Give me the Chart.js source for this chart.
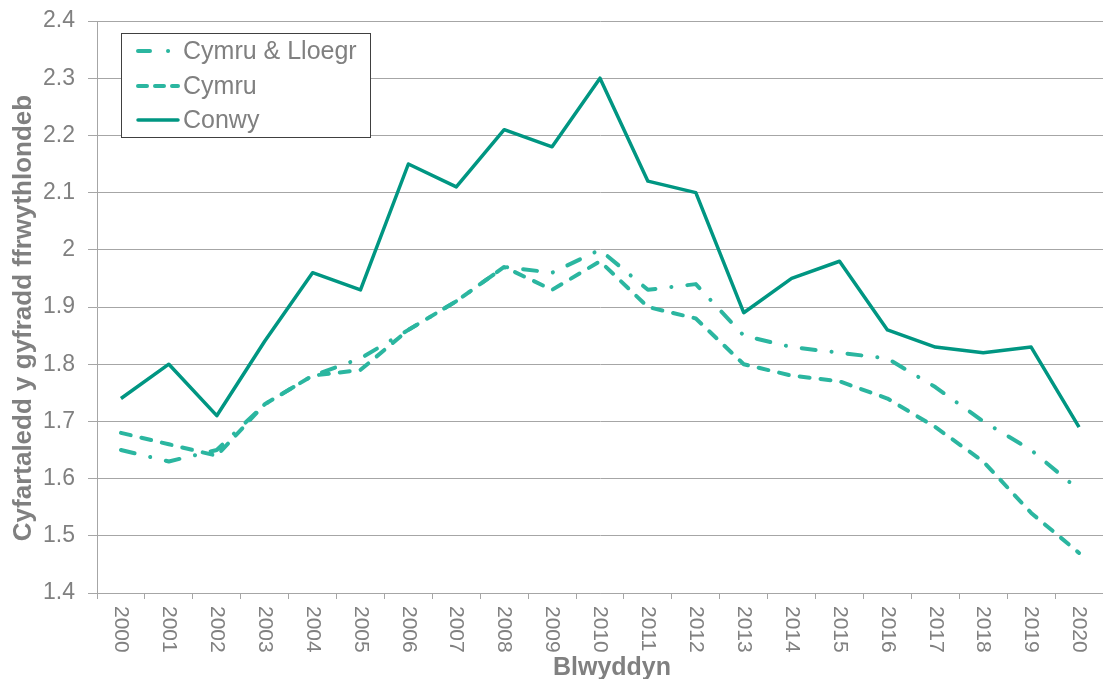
<!DOCTYPE html>
<html>
<head>
<meta charset="utf-8">
<script src="https://cdn.jsdelivr.net/npm/chart.js@4/dist/chart.umd.min.js"></script>
<style>
  html, body { margin: 0; padding: 0; background: #fff; }
  #wrap { width: 1103px; height: 679px; }
</style>
</head>
<body>
<div id="wrap"><canvas id="fertilityChart"></canvas></div>
<script>
var years = ["2000", "2001", "2002", "2003", "2004", "2005", "2006", "2007", "2008", "2009", "2010",
    "2011", "2012", "2013", "2014", "2015", "2016", "2017", "2018", "2019", "2020"];

var cymruLloegr = [1.65, 1.63, 1.65, 1.73, 1.78, 1.81, 1.86, 1.91, 1.97, 1.96, 2.00,
    1.93, 1.94, 1.85, 1.83, 1.82, 1.81, 1.76, 1.70, 1.65, 1.58];
var cymru = [1.68, 1.66, 1.64, 1.73, 1.78, 1.79, 1.86, 1.91, 1.97, 1.93, 1.98,
    1.90, 1.88, 1.80, 1.78, 1.77, 1.74, 1.69, 1.63, 1.54, 1.47];
var conwy = [1.74, 1.80, 1.71, 1.84, 1.96, 1.93, 2.15, 2.11, 2.21, 2.18, 2.30,
    2.12, 2.10, 1.89, 1.95, 1.98, 1.86, 1.83, 1.82, 1.83, 1.69];

var seriesNames = ["Cymru & Lloegr", "Cymru", "Conwy"];
var xTitle = "Blwyddyn";
var yTitle = "Cyfartaledd y gyfradd ffrwythlondeb";

var lightTeal = "#2bb6a0";
var darkTeal = "#009682";
var grey = "#808080";
var gridGrey = "#a6a6a6";
var fontName = "'Liberation Sans', Arial, sans-serif";

// draws rotated year labels, axis titles and the boxed legend
var extras = {
    id: "extras",
    afterDraw: function (chart) {
        var ctx = chart.ctx;
        var x = chart.scales.x;
        var area = chart.chartArea;
        ctx.save();

        ctx.fillStyle = grey;
        ctx.font = "21px " + fontName;
        ctx.textAlign = "left";
        ctx.textBaseline = "middle";
        years.forEach(function (yr, i) {
            var px = x.getPixelForTick(i);
            ctx.save();
            ctx.translate(px, area.bottom + 13);
            ctx.rotate(Math.PI / 2);
            ctx.fillText(yr, 0, 0);
            ctx.restore();
        });

        ctx.font = "bold 25px " + fontName;
        ctx.textAlign = "center";
        ctx.fillText(xTitle, 612, 668);

        ctx.save();
        ctx.font = "bold 26px " + fontName;
        ctx.translate(24, 318);
        ctx.rotate(-Math.PI / 2);
        ctx.fillText(yTitle, 0, 0);
        ctx.restore();

        // legend
        ctx.fillStyle = "#fff";
        ctx.fillRect(121, 33, 249, 104);
        ctx.strokeStyle = "#404040";
        ctx.lineWidth = 1;
        ctx.strokeRect(121.5, 33.5, 249, 104);

        var rows = [51, 86, 120];
        ctx.font = "25px " + fontName;
        ctx.textAlign = "left";
        chart.data.datasets.forEach(function (ds, i) {
            ctx.save();
            ctx.strokeStyle = ds.borderColor;
            ctx.lineWidth = ds.borderWidth;
            ctx.lineCap = "round";
            ctx.setLineDash(ds.legendDash);
            ctx.beginPath();
            ctx.moveTo(138, rows[i]);
            ctx.lineTo(178, rows[i]);
            ctx.stroke();
            ctx.restore();
            ctx.fillStyle = grey;
            ctx.fillText(ds.label, 183, rows[i] + 1);
        });

        ctx.restore();
    },
};

new Chart("fertilityChart", {
    type: "line",
    data: {
        labels: years,
        datasets: [
            {
                label: seriesNames[0],
                data: cymruLloegr,
                borderColor: lightTeal,
                borderWidth: 4,
                borderDash: [14, 16, 0.1, 16],
                borderCapStyle: "round",
                legendDash: [12, 18, 0.1, 100],
            },
            {
                label: seriesNames[1],
                data: cymru,
                borderColor: lightTeal,
                borderWidth: 4,
                borderDash: [10, 11],
                borderCapStyle: "round",
                legendDash: [9, 8],
            },
            {
                label: seriesNames[2],
                data: conwy,
                borderColor: darkTeal,
                borderWidth: 3.5,
                legendDash: [],
            },
        ],
    },
    options: {
        responsive: true,
        maintainAspectRatio: false,
        animation: false,
        layout: { padding: { top: 21, right: 0, left: 0, bottom: 0 } },
        elements: {
            point: { radius: 0, hoverRadius: 0 },
            line: { tension: 0, borderJoinStyle: "round" },
        },
        plugins: {
            legend: { display: false },
            tooltip: { enabled: false },
        },
        scales: {
            x: {
                offset: true,
                grid: {
                    offset: true,
                    drawOnChartArea: false,
                    drawTicks: true,
                    tickLength: 6,
                    color: gridGrey,
                },
                border: { color: gridGrey },
                ticks: { display: false },
                afterFit: function (scale) {
                    scale.height = 86;
                    scale.paddingLeft = 0;
                    scale.paddingRight = 0;
                },
            },
            y: {
                min: 1.4,
                max: 2.4,
                grid: { color: gridGrey, tickLength: 9 },
                border: { color: gridGrey },
                ticks: {
                    stepSize: 0.1,
                    color: grey,
                    padding: 13,
                    font: { size: 23, family: fontName },
                    callback: function (v) {
                        return String(Number(v.toFixed(1)));
                    },
                },
                afterFit: function (scale) {
                    scale.width = 97;
                    scale.paddingTop = 0;
                    scale.paddingBottom = 0;
                },
            },
        },
    },
    plugins: [extras],
});
</script>
</body>
</html>
